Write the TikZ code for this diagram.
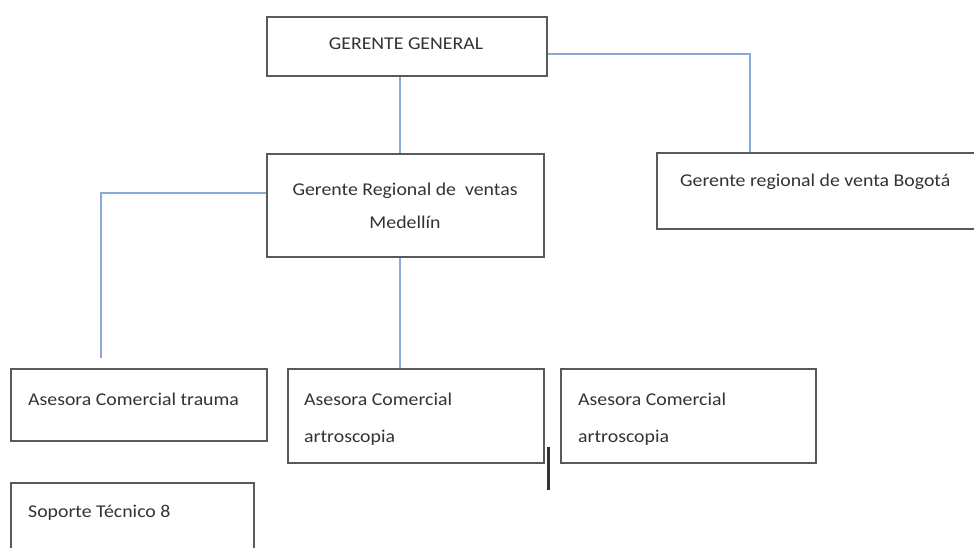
\documentclass[tikz,border=0pt]{standalone}
\usepackage{fontspec}
\setmainfont{Carlito}[FakeStretch=1.1]
\definecolor{boxgray}{HTML}{5A5A5A}
\definecolor{linkblue}{HTML}{8AA8D8}
\definecolor{txt}{HTML}{333333}
\begin{document}
\begin{tikzpicture}[x=1pt,y=-1pt,
  box/.style={draw=boxgray,line width=2.4pt,fill=white,anchor=north west,inner sep=0pt,
    minimum width=#1},
  lbl/.style={inner sep=0pt,text=txt,font=\fontsize{18}{21}\selectfont},
  link/.style={draw=linkblue,line width=1.6pt}]
\useasboundingbox (0,0) rectangle (974,548);
\clip (0,0) rectangle (974,548);
% boxes
\node[box=280pt,minimum height=59pt] (gg) at (266,16) {};
\node[box=277pt,minimum height=103pt] (med) at (266,153) {};
\node[box=330pt,minimum height=76pt] (bog) at (656,152) {};
\node[box=256pt,minimum height=72pt] (tra) at (10,368) {};
\node[box=256pt,minimum height=94pt] (art1) at (287,368) {};
\node[box=255pt,minimum height=94pt] (art2) at (560,368) {};
\node[box=243pt,minimum height=80pt] (sop) at (10,482) {};
% texts
\node[lbl,anchor=base] (tgg) at (406,50) {GERENTE GENERAL};
\node[lbl,anchor=base] (tmed1) at (405,196) {Gerente Regional de\ \ ventas};
\node[lbl,anchor=base] (tmed2) at (405,228) {Medellín};
\node[lbl,anchor=base west] (tbog) at (680,187) {Gerente regional de venta Bogotá};
\node[lbl,anchor=base west] (ttra) at (28,405) {Asesora Comercial trauma};
\node[lbl,anchor=base west] (ta1a) at (304,405) {Asesora Comercial};
\node[lbl,anchor=base west] (ta1b) at (304,442) {artroscopia};
\node[lbl,anchor=base west] (ta2a) at (578,405) {Asesora Comercial};
\node[lbl,anchor=base west] (ta2b) at (578,442) {artroscopia};
\node[lbl,anchor=base west] (tsop) at (28,517) {Soporte Técnico 8};
% connectors
\coordinate (tradrop) at (101,358);
\draw[link] (gg.south -| 400,0) -- (med.north -| 400,0);
\draw[link] (gg.east |- 0,54) -| (bog.north -| 750,0);
\draw[link] (med.west |- 0,193) -| (tradrop);
\draw[link] (med.south -| 400,0) -- (art1.north -| 400,0);
% cursor bar
\draw[line width=3pt,draw=black!80] (548,447) -- (548,490);
\end{tikzpicture}
\end{document}
